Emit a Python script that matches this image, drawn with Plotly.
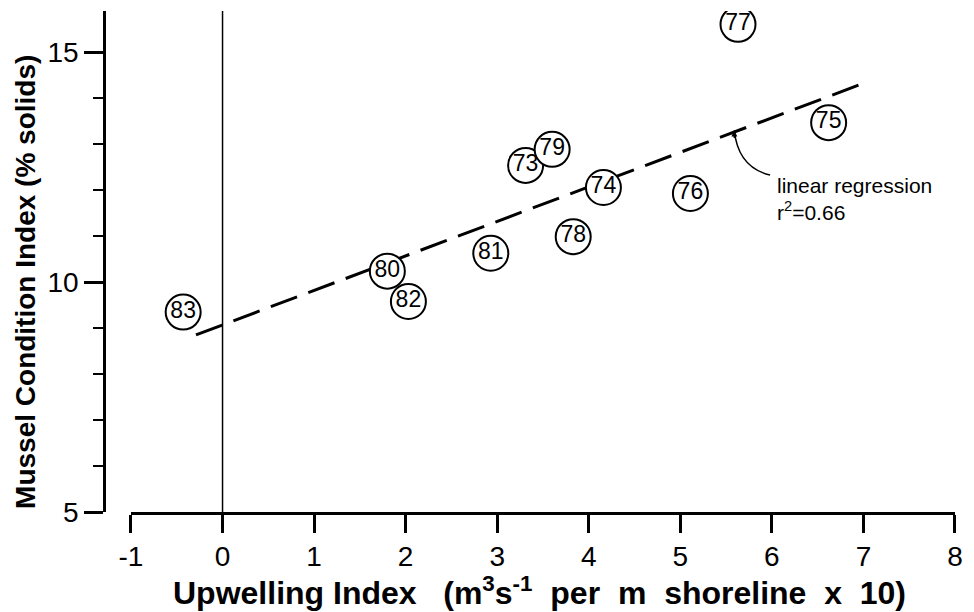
import plotly.graph_objects as go

# Data
years = ["83", "80", "82", "81", "73", "79", "78", "74", "76", "77", "75"]
upwelling = [-0.43, 1.80, 2.03, 2.93, 3.31, 3.60, 3.83, 4.16, 5.11, 5.63, 6.62]
condition = [9.35, 10.24, 9.58, 10.63, 12.54, 12.89, 10.99, 12.06, 11.93, 15.61, 13.47]

reg_intercept = 9.07
reg_slope = 0.751
reg_x = [-0.29, 7.0]
reg_y = [reg_intercept + reg_slope * v for v in reg_x]

x_ticks = list(range(-1, 9))
y_ticks = [5, 10, 15]

FONT = "Liberation Sans, Arial, sans-serif"

fig = go.Figure()

# vertical zero line
fig.add_trace(go.Scatter(x=[0, 0], y=[5, 15.9], mode="lines",
                         line=dict(color="black", width=1.5),
                         hoverinfo="skip", showlegend=False))

# regression line
fig.add_trace(go.Scatter(x=reg_x, y=reg_y, mode="lines",
                         line=dict(color="black", width=3, dash="28px,12px"),
                         hoverinfo="skip", showlegend=False))

# points labelled by year
fig.add_trace(go.Scatter(x=upwelling, y=condition, mode="markers+text",
                         text=years, textposition="middle center",
                         textfont=dict(family=FONT, size=23, color="black"),
                         marker=dict(symbol="circle", size=35, color="white",
                                     line=dict(color="black", width=2)),
                         showlegend=False))

# curved pointer to regression line
p0 = (5.59, 13.30)
pc = (5.63, 12.50)
p1 = (5.98, 12.33)
fig.add_shape(type="path",
              path=f"M {p0[0]},{p0[1]} Q {pc[0]},{pc[1]} {p1[0]},{p1[1]}",
              xref="x", yref="y", line=dict(color="black", width=1.5))
fig.add_annotation(x=p0[0], y=p0[1], ax=0, ay=9, xref="x", yref="y",
                   showarrow=True, arrowhead=2, arrowsize=0.8, arrowwidth=1.5,
                   arrowcolor="black", text="")

fig.add_annotation(x=6.03, y=11.82, xref="x", yref="y", xanchor="left",
                   yanchor="middle", align="left", showarrow=False,
                   text="linear regression<br>r<sup>2</sup>=0.66",
                   font=dict(family=FONT, size=21, color="black"))

# axis titles
fig.add_annotation(x=0.512, y=-0.158, xref="paper", yref="paper",
                   xanchor="center", yanchor="middle", showarrow=False,
                   text="<b>Upwelling Index   (m<sup>3</sup>s<sup>-1</sup>  per  m  shoreline  x  10)</b>",
                   font=dict(family=FONT, size=32, color="black"))
fig.add_annotation(x=-0.093, y=0.459, xref="paper", yref="paper",
                   xanchor="center", yanchor="middle", showarrow=False, textangle=-90,
                   text="<b>Mussel Condition Index (% solids)</b>",
                   font=dict(family=FONT, size=28, color="black"))

fig.update_layout(
    width=974, height=612,
    margin=dict(l=104, r=17, t=11, b=100),
    plot_bgcolor="white", paper_bgcolor="white",
    font=dict(family=FONT, color="black"),
    xaxis=dict(range=[-1, 8], domain=[0.0317, 1], tickvals=x_ticks,
               ticktext=[str(v) for v in x_ticks],
               showgrid=False, zeroline=False, showline=True, linecolor="black",
               linewidth=2.5, ticks="outside", ticklen=18, tickwidth=2.5,
               tickcolor="black", tickfont=dict(family=FONT, size=28)),
    yaxis=dict(range=[5, 15.9], anchor="free", position=0, tickvals=y_ticks,
               showgrid=False, zeroline=False, showline=True, linecolor="black",
               linewidth=2.5, ticks="outside", ticklen=19, tickwidth=2.5,
               tickcolor="black", tickfont=dict(family=FONT, size=28),
               minor=dict(dtick=1, ticks="outside", ticklen=10, tickwidth=2,
                          tickcolor="black")),
)

fig.write_html("out.html")
